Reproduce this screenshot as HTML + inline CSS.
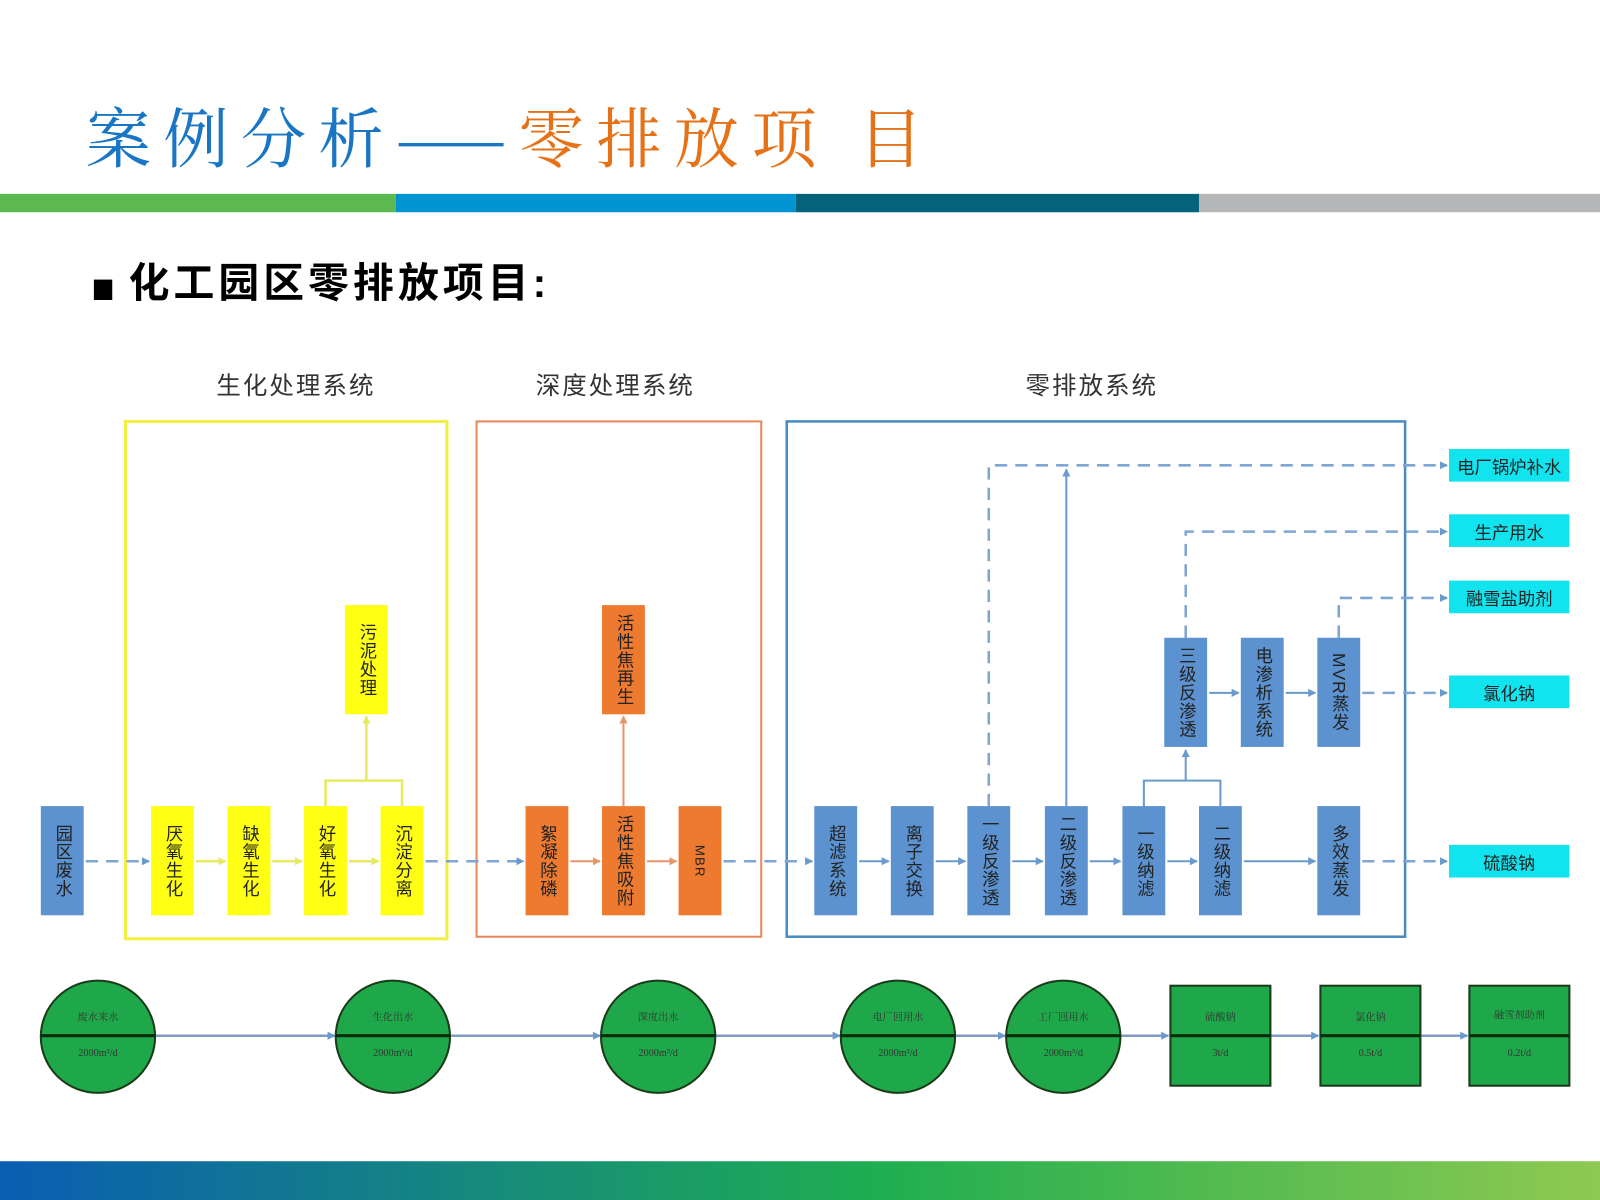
<!DOCTYPE html>
<html><head><meta charset="utf-8"><style>
html,body{margin:0;padding:0;background:#fff;width:1600px;height:1200px;overflow:hidden}
#w{position:absolute;left:0;top:0;width:1568px;height:1176px;transform:scale(1.020408);transform-origin:0 0;font-family:"Liberation Sans","Noto Sans CJK SC",sans-serif}
.a{position:absolute}
.n{position:absolute;writing-mode:vertical-rl;display:flex;align-items:center;justify-content:center;font-size:17px;color:#222;letter-spacing:1px;box-sizing:border-box}
.y{background:#ffff14}.o{background:#ee7a30}.b{background:#5b92cf}
.c{position:absolute;background:#12e4ef;display:flex;align-items:center;justify-content:center;font-size:17px;color:#222;width:118px;height:32px}
.sec{position:absolute;font-size:24px;color:#333;letter-spacing:2px;font-family:"Liberation Sans","Noto Sans CJK SC",sans-serif}
.g{position:absolute;font-size:10px;color:#333;text-align:center;font-family:"Liberation Serif","Noto Serif CJK SC",serif}
</style></head><body><div id="w">
<div class="a" style="left:84px;top:92px;font-size:64px;font-family:'Noto Serif CJK SC',serif;white-space:nowrap;line-height:80px;letter-spacing:12px"><span style="color:#1976c4">案例分析——</span><span style="color:#e67218">零排放项 目</span></div>
<div class="a" style="left:0;top:190px;width:388px;height:18px;background:#5bb94f"></div>
<div class="a" style="left:388px;top:190px;width:392px;height:18px;background:#0094d2"></div>
<div class="a" style="left:780px;top:190px;width:395px;height:18px;background:#04627a"></div>
<div class="a" style="left:1175px;top:190px;width:393px;height:18px;background:#b4b6b8"></div>
<div class="a" style="left:92px;top:274px;width:18px;height:20px;background:#000"></div>
<div class="a" style="left:126px;top:252px;font-size:40px;font-weight:bold;color:#000;white-space:nowrap;line-height:52px;letter-spacing:4px">化工园区零排放项目:</div>
<div class="sec" style="left:212px;top:358px">生化处理系统</div>
<div class="sec" style="left:525px;top:358px">深度处理系统</div>
<div class="sec" style="left:1005px;top:358px">零排放系统</div>
<svg class="a" style="left:0;top:0" width="1568" height="1176">
<defs>
<marker id="mb" markerWidth="8" markerHeight="8" refX="7" refY="4" orient="auto" markerUnits="userSpaceOnUse"><path d="M0,0L8,4L0,8z" fill="#6a9acb"/></marker>
<marker id="my" markerWidth="8" markerHeight="8" refX="7" refY="4" orient="auto" markerUnits="userSpaceOnUse"><path d="M0,0L8,4L0,8z" fill="#e6ea60"/></marker>
<marker id="mo" markerWidth="8" markerHeight="8" refX="7" refY="4" orient="auto" markerUnits="userSpaceOnUse"><path d="M0,0L8,4L0,8z" fill="#e8956a"/></marker>
<linearGradient id="bg" x1="0" x2="1"><stop offset="0" stop-color="#0b5db2"/><stop offset="0.55" stop-color="#1fae50"/><stop offset="1" stop-color="#8ec951"/></linearGradient>
</defs>
<rect x="123" y="413" width="315" height="507" fill="none" stroke="#f0f045" stroke-width="3"/>
<rect x="467" y="413" width="279" height="505" fill="none" stroke="#e9875c" stroke-width="2"/>
<rect x="771" y="413" width="606" height="505" fill="none" stroke="#4a8cc2" stroke-width="2.5"/>
<g stroke="#7fa6d2" stroke-width="2.5" fill="none" stroke-dasharray="12,8">
<line x1="84" y1="844" x2="146" y2="844" marker-end="url(#mb)"/>
<line x1="417" y1="844" x2="513" y2="844" marker-end="url(#mb)"/>
<line x1="709" y1="844" x2="796" y2="844" marker-end="url(#mb)"/>
<line x1="1335" y1="844" x2="1418" y2="844" marker-end="url(#mb)"/>
<line x1="1335" y1="679" x2="1418" y2="679" marker-end="url(#mb)"/>
<polyline points="969,790 969,456 1418,456" marker-end="url(#mb)"/>
<polyline points="1162,625 1162,521 1418,521" marker-end="url(#mb)"/>
<polyline points="1312,625 1312,586 1418,586" marker-end="url(#mb)"/>
</g>
<g stroke="#e6ea60" stroke-width="2.5" fill="none">
<line x1="192" y1="844" x2="221" y2="844" marker-end="url(#my)"/>
<line x1="267" y1="844" x2="296" y2="844" marker-end="url(#my)"/>
<line x1="342" y1="844" x2="371" y2="844" marker-end="url(#my)"/>
<polyline points="319,790 319,765 394,765 394,790"/>
<line x1="359" y1="765" x2="359" y2="702" marker-end="url(#my)"/>
</g>
<g stroke="#e8956a" stroke-width="2" fill="none">
<line x1="559" y1="844" x2="588" y2="844" marker-end="url(#mo)"/>
<line x1="634" y1="844" x2="663" y2="844" marker-end="url(#mo)"/>
<line x1="611" y1="790" x2="611" y2="702" marker-end="url(#mo)"/>
</g>
<g stroke="#6a9acb" stroke-width="2" fill="none">
<line x1="842" y1="844" x2="871" y2="844" marker-end="url(#mb)"/>
<line x1="917" y1="844" x2="946" y2="844" marker-end="url(#mb)"/>
<line x1="992" y1="844" x2="1022" y2="844" marker-end="url(#mb)"/>
<line x1="1068" y1="844" x2="1098" y2="844" marker-end="url(#mb)"/>
<line x1="1144" y1="844" x2="1173" y2="844" marker-end="url(#mb)"/>
<line x1="1219" y1="844" x2="1289" y2="844" marker-end="url(#mb)"/>
<line x1="1185" y1="679" x2="1214" y2="679" marker-end="url(#mb)"/>
<line x1="1260" y1="679" x2="1289" y2="679" marker-end="url(#mb)"/>
<line x1="1045" y1="790" x2="1045" y2="460" marker-end="url(#mb)"/>
<polyline points="1121,790 1121,765 1196,765 1196,790"/>
<line x1="1162" y1="765" x2="1162" y2="735" marker-end="url(#mb)"/>
</g>
<g stroke="#7d9bc4" stroke-width="2.5">
<line x1="152" y1="1015" x2="328" y2="1015" marker-end="url(#mb)"/>
<line x1="440" y1="1015" x2="588" y2="1015" marker-end="url(#mb)"/>
<line x1="700" y1="1015" x2="823" y2="1015" marker-end="url(#mb)"/>
<line x1="935" y1="1015" x2="985" y2="1015" marker-end="url(#mb)"/>
<line x1="1097" y1="1015" x2="1145" y2="1015" marker-end="url(#mb)"/>
<line x1="1245" y1="1015" x2="1292" y2="1015" marker-end="url(#mb)"/>
<line x1="1392" y1="1015" x2="1438" y2="1015" marker-end="url(#mb)"/>
</g>
<g fill="#1fa84a" stroke="#1a3a1a" stroke-width="2">
<ellipse cx="96" cy="1016" rx="56" ry="55"/>
<ellipse cx="385" cy="1016" rx="56" ry="55"/>
<ellipse cx="645" cy="1016" rx="56" ry="55"/>
<ellipse cx="880" cy="1016" rx="56" ry="55"/>
<ellipse cx="1042" cy="1016" rx="56" ry="55"/>
<rect x="1147" y="966" width="98" height="98"/>
<rect x="1294" y="966" width="98" height="98"/>
<rect x="1440" y="966" width="98" height="98"/>
</g>
<g stroke="#0d2a0d" stroke-width="3">
<line x1="40" y1="1015" x2="152" y2="1015"/><line x1="329" y1="1015" x2="441" y2="1015"/>
<line x1="589" y1="1015" x2="701" y2="1015"/><line x1="824" y1="1015" x2="936" y2="1015"/>
<line x1="986" y1="1015" x2="1098" y2="1015"/><line x1="1147" y1="1015" x2="1245" y2="1015"/>
<line x1="1294" y1="1015" x2="1392" y2="1015"/><line x1="1440" y1="1015" x2="1538" y2="1015"/>
</g>
<rect x="0" y="1138" width="1568" height="38" fill="url(#bg)"/>
</svg>
<div class="n b" style="left:40px;top:790px;width:42px;height:107px">园区废水</div>
<div class="n y" style="left:148px;top:790px;width:42px;height:107px">厌氧生化</div>
<div class="n y" style="left:223px;top:790px;width:42px;height:107px">缺氧生化</div>
<div class="n y" style="left:298px;top:790px;width:42px;height:107px">好氧生化</div>
<div class="n y" style="left:373px;top:790px;width:42px;height:107px">沉淀分离</div>
<div class="n y" style="left:338px;top:593px;width:42px;height:107px">污泥处理</div>
<div class="n o" style="left:515px;top:790px;width:42px;height:107px">絮凝除磷</div>
<div class="n o" style="left:590px;top:790px;width:42px;height:107px">活性焦吸附</div>
<div class="n o" style="left:665px;top:790px;width:42px;height:107px;font-size:13px">MBR</div>
<div class="n o" style="left:590px;top:593px;width:42px;height:107px">活性焦再生</div>
<div class="n b" style="left:798px;top:790px;width:42px;height:107px">超滤系统</div>
<div class="n b" style="left:873px;top:790px;width:42px;height:107px">离子交换</div>
<div class="n b" style="left:948px;top:790px;width:42px;height:107px">一级反渗透</div>
<div class="n b" style="left:1024px;top:790px;width:42px;height:107px">二级反渗透</div>
<div class="n b" style="left:1100px;top:790px;width:42px;height:107px">一级纳滤</div>
<div class="n b" style="left:1175px;top:790px;width:42px;height:107px">二级纳滤</div>
<div class="n b" style="left:1291px;top:790px;width:42px;height:107px">多效蒸发</div>
<div class="n b" style="left:1141px;top:625px;width:42px;height:107px">三级反渗透</div>
<div class="n b" style="left:1216px;top:625px;width:42px;height:107px">电渗析系统</div>
<div class="n b" style="left:1291px;top:625px;width:42px;height:107px">MVR蒸发</div>
<div class="c" style="left:1420px;top:440px">电厂锅炉补水</div>
<div class="c" style="left:1420px;top:504px">生产用水</div>
<div class="c" style="left:1420px;top:569px">融雪盐助剂</div>
<div class="c" style="left:1420px;top:662px">氯化钠</div>
<div class="c" style="left:1420px;top:828px">硫酸钠</div>
<div class="g" style="left:40px;top:988px;width:112px">废水来水</div><div class="g" style="left:40px;top:1027px;width:112px">2000m³/d</div>
<div class="g" style="left:329px;top:988px;width:112px">生化出水</div><div class="g" style="left:329px;top:1027px;width:112px">2000m³/d</div>
<div class="g" style="left:589px;top:988px;width:112px">深度出水</div><div class="g" style="left:589px;top:1027px;width:112px">2000m³/d</div>
<div class="g" style="left:824px;top:988px;width:112px">电厂回用水</div><div class="g" style="left:824px;top:1027px;width:112px">2000m³/d</div>
<div class="g" style="left:986px;top:988px;width:112px">工厂回用水</div><div class="g" style="left:986px;top:1027px;width:112px">2000m³/d</div>
<div class="g" style="left:1147px;top:988px;width:98px">硫酸钠</div><div class="g" style="left:1147px;top:1027px;width:98px">3t/d</div>
<div class="g" style="left:1294px;top:988px;width:98px">氯化钠</div><div class="g" style="left:1294px;top:1027px;width:98px">0.5t/d</div>
<div class="g" style="left:1440px;top:986px;width:98px">融雪剂助剂</div><div class="g" style="left:1440px;top:1027px;width:98px">0.2t/d</div>
</div></body></html>
